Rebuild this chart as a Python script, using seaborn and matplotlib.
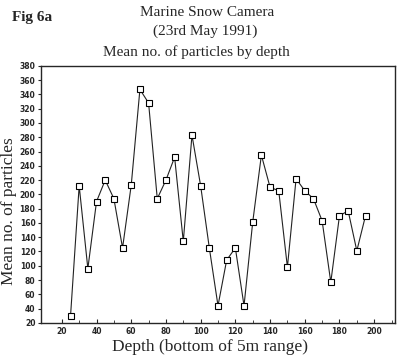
import numpy as np
import pandas as pd
import matplotlib
matplotlib.use("Agg")
import matplotlib.pyplot as plt
import seaborn as sns

# depth (bottom of 5m range) and mean particle counts
depth = list(range(25, 200, 5))
particles = [29, 212, 96, 190, 220, 194, 125, 213, 347, 328,
             194, 220, 252, 134, 283, 212, 125, 44, 108, 125,
             44, 161, 255, 210, 205, 98, 222, 205, 194, 163,
             77, 170, 177, 121, 170]
x_ticks = [20, 40, 60, 80, 100, 120, 140, 160, 180, 200]
y_ticks = list(range(20, 381, 20))

df = pd.DataFrame({"depth": depth, "particles": particles})

sns.set_style("ticks")
plt.rcParams["font.family"] = ["Liberation Serif", "DejaVu Serif"]

fig = plt.figure(figsize=(4.0, 3.56), dpi=100)
ax = fig.add_axes([0.1025, 0.093, 0.885, 0.722])

sns.lineplot(data=df, x="depth", y="particles", ax=ax, color="#222222",
             linewidth=0.8, marker="s", markersize=3.8,
             markerfacecolor="white", markeredgecolor="black",
             markeredgewidth=0.8)

ax.set_xlim(8, 212)
ax.set_ylim(20, 380)
ax.set_xticks(x_ticks)
ax.set_xticks(list(range(30, 211, 20)), minor=True)
ax.set_yticks(y_ticks)
ax.tick_params(axis="x", direction="in", length=3, width=0.8, labelsize=5.5, pad=3)
ax.tick_params(axis="x", which="minor", direction="in", length=2, width=0.6)
ax.tick_params(axis="y", direction="out", length=2.5, width=0.8, labelsize=5.5, pad=1.5)
for lab in ax.get_xticklabels() + ax.get_yticklabels():
    lab.set_fontfamily("DejaVu Sans")
    lab.set_fontweight("bold")
for sp in ax.spines.values():
    sp.set_linewidth(1.0)
    sp.set_visible(True)

ax.set_xlabel("Depth (bottom of 5m range)", fontsize=12.5)
ax.xaxis.set_label_coords(0.477, -0.062)
ax.set_ylabel("Mean no. of particles", fontsize=12.5)
ax.yaxis.set_label_coords(-0.068, 0.436)

fig.text(0.03, 0.952, "Fig 6a", fontsize=11, fontweight="bold", va="center")
fig.text(0.518, 0.965, "Marine Snow Camera", fontsize=11, ha="center", va="center")
fig.text(0.513, 0.912, "(23rd May 1991)", fontsize=11, ha="center", va="center")
fig.text(0.49, 0.855, "Mean no. of particles by depth", fontsize=11, ha="center", va="center")

fig.savefig("out.png", dpi=100)
